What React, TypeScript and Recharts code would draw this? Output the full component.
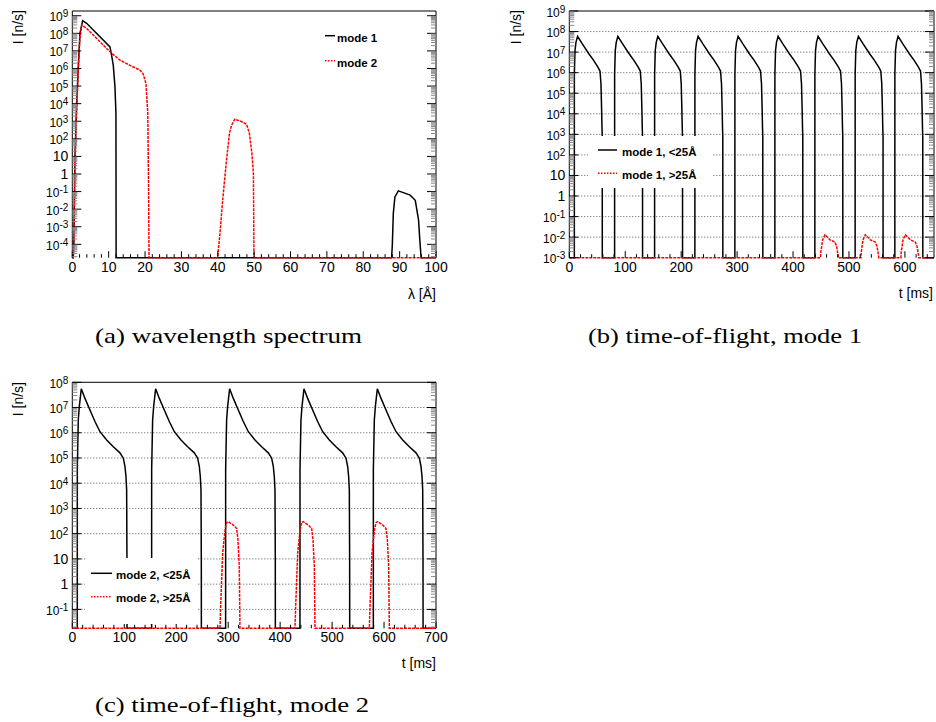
import React from "react";
import { LineChart, Line, XAxis, YAxis, ReferenceLine } from "recharts";

type Pt = [number, number];

// (a) wavelength spectrum: [lambda (Å), I (n/s)], 0 = empty bin
const spectrumMode1: Pt[] = [
  [0, 0], [0.27, 0], [0.46, 4e-4], [0.73, 9], [1.19, 1e4], [1.65, 1.3e6], [2.11, 1e8],
  [2.84, 5.2e8], [3.94, 3.7e8], [10.36, 1.7e7], [10.8, 5.8e6], [11.27, 1.5e6], [11.73, 9e4],
  [12.0, 2.8e3], [12.05, 0], [87.8, 0], [88.0, 1e-4], [88.26, 5.6e-3], [88.7, 5e-2],
  [89.65, 0.11], [92.9, 6.3e-2], [94.3, 3.2e-2], [95.2, 2.5e-3], [95.5, 2.5e-4], [95.9, 0], [100, 0],
];
const spectrumMode2: Pt[] = [
  [0, 0], [0.27, 0], [0.46, 1.6e-4], [0.75, 6], [1.2, 4e3], [1.65, 8e5], [2.1, 6e7],
  [2.57, 3e8], [3.94, 1.9e8], [6.69, 5.1e7], [10.36, 8.9e6], [13.1, 3e6], [15.86, 1.5e6],
  [18.6, 8.1e5], [19.5, 4.8e5], [20.25, 1.4e5], [20.75, 3e3], [21.0, 3e-2], [21.1, 0],
  [40.0, 0], [40.14, 4.6e-5], [40.6, 4e-4], [41.3, 2.6e-2], [42.4, 6], [43.2, 200], [43.8, 600],
  [44.7, 1.3e3], [46.1, 1.05e3], [47.9, 680], [48.7, 200], [49.4, 14], [49.8, 1], [49.95, 0], [100, 0],
];

// (b) time-of-flight, mode 1: pulse start times (ms) and pulse shape [dt (ms), I]
const mode1FastStarts = [9, 81, 152.5, 224.5, 296, 367.5, 439, 511, 582];
const mode1FastShape: Pt[] = [
  [0, 0], [0.05, 8.9e5], [1.2, 1.2e7], [2.9, 3e7], [5.8, 5.9e7], [14.3, 2.5e7], [25.9, 8.3e6],
  [34.5, 4e6], [41.9, 1.9e6], [45.9, 1.2e6], [47.6, 2.9e5], [48.8, 1.5e4], [49.4, 2.3e3],
  [49.9, 7.6e2], [50, 0],
];
const mode1SlowStarts = [449.3, 521.5, 593];
const mode1SlowShape: Pt[] = [
  [0, 0], [0.2, 1.7e-3], [3.6, 7.4e-3], [7.8, 1.3e-2], [16.7, 7.4e-3], [25.7, 5.7e-3],
  [28.7, 3.5e-3], [31.5, 1.2e-3], [31.7, 0],
];

// (c) time-of-flight, mode 2
const mode2FastStarts = [9.6, 152.7, 295.1, 438.2, 579.4];
const mode2FastShape: Pt[] = [
  [0, 0], [0.05, 3.4e4], [1.9, 3.2e6], [3.9, 1.1e7], [7.7, 5.5e7], [14.8, 2.3e7], [24.4, 8e6],
  [34, 2.8e6], [43.7, 1.1e6], [56.5, 5.2e5], [69.3, 2.8e5], [82.1, 1.6e5], [88.6, 9.8e4],
  [91.8, 4.6e4], [93.7, 1.8e4], [95, 5.4e3], [95.6, 9], [95.7, 0],
];
const mode2SlowStarts = [284.2, 428.6, 571.7];
const mode2SlowShape: Pt[] = [
  [0, 0], [1.3, 0.13], [5.2, 17], [7.7, 56], [10.3, 160], [13, 280], [16.1, 300], [25.7, 220],
  [32.1, 160], [34.7, 56], [37.2, 4.9], [38.5, 0],
];

// axis ticks
const lambdaTicks = [0, 10, 20, 30, 40, 50, 60, 70, 80, 90, 100];
const tofTicksB = [0, 100, 200, 300, 400, 500, 600];
const tofTicksC = [0, 100, 200, 300, 400, 500, 600, 700];
const gridB = [1e8, 1e7, 1e6, 1e5, 1e4, 1e3, 1e2, 10, 1, 1e-1, 1e-2];
const gridC = [1e7, 1e6, 1e5, 1e4, 1e3, 1e2, 10, 1, 1e-1];

const FONT = "'Liberation Sans', Arial, Helvetica, sans-serif";
const SERIF = "'Liberation Serif', 'Times New Roman', serif";
const RED_DASH = "3 1";

const train = (starts: number[], shape: Pt[], xMax: number): Pt[] => [
  [0, 0],
  ...starts.flatMap((s) => shape.map(([dt, v]) => [s + dt, v] as Pt)),
  [xMax, 0],
];

// empty bins sit on the bottom of the log frame
const rows = (pts: Pt[], floor: number) => pts.map(([x, v]) => ({ x, y: v > 0 ? v : floor }));

function logTicks(min: number, max: number) {
  const majors: number[] = [];
  const minors: number[] = [];
  for (let e = Math.floor(Math.log10(min)); e <= Math.ceil(Math.log10(max)); e++) {
    for (let m = 1; m <= 9; m++) {
      const v = parseFloat(`${m}e${e}`);
      if (v < min * 0.9999 || v > max * 1.0001) continue;
      (m === 1 ? majors : minors).push(v);
    }
  }
  return { majors, minors };
}

type Series = { pts: Pt[]; color: string; dash?: string };
type PanelProps = {
  left: number;
  top: number;
  width: number;
  height: number;
  margin: { top: number; right: number; bottom: number; left: number };
  xDomain: [number, number];
  xMajor: number[];
  xMinorStep: number;
  yDomain: [number, number];
  grid: number[];
  series: Series[];
};

function yLabel(v: number) {
  const e = Math.round(Math.log10(v));
  if (e === 0 || e === 1) return { base: e === 0 ? "1" : "10", exp: null as string | null };
  return { base: "10", exp: String(e) };
}

function Panel(p: PanelProps) {
  const { majors: yMaj, minors: yMin } = logTicks(p.yDomain[0], p.yDomain[1]);
  const yMajSet = new Set(yMaj);
  const yTicks = [...yMaj, ...yMin];
  const xMin: number[] = [];
  for (let v = p.xDomain[0]; v <= p.xDomain[1] + 1e-9; v += p.xMinorStep) {
    const r = Math.round(v * 1000) / 1000;
    if (!p.xMajor.includes(r)) xMin.push(r);
  }
  const xMajSet = new Set(p.xMajor);
  const xTicks = [...p.xMajor, ...xMin];
  const axisLine = { stroke: "#000", strokeWidth: 1 };
  const floor = p.yDomain[0];

  return (
    <div style={{ position: "absolute", left: p.left, top: p.top }}>
      <LineChart width={p.width} height={p.height} margin={p.margin}>
        <XAxis
          xAxisId="b"
          type="number"
          dataKey="x"
          domain={p.xDomain}
          ticks={xTicks}
          interval={0}
          tickSize={0}
          tickMargin={0}
          height={20}
          tickLine={false}
          axisLine={false}
          tick={(t: any) => {
            const major = xMajSet.has(t.payload.value);
            return (
              <g>
                <line x1={t.x} x2={t.x} y1={t.y} y2={t.y - (major ? 6.5 : 3.5)} stroke="#000" />
                {major && (
                  <text x={t.x} y={t.y + 14} textAnchor="middle" fontSize={14} fontFamily={FONT} fill="#000">
                    {t.payload.value}
                  </text>
                )}
              </g>
            );
          }}
        />
        <XAxis
          xAxisId="t"
          orientation="top"
          type="number"
          domain={p.xDomain}
          allowDataOverflow
          ticks={xTicks}
          interval={0}
          tickSize={0}
          tickMargin={0}
          height={1}
          tickLine={false}
          axisLine={axisLine}
          tick={(t: any) => {
            const major = xMajSet.has(t.payload.value);
            return <line x1={t.x} x2={t.x} y1={t.y} y2={t.y + (major ? 6.5 : 3.5)} stroke="#000" />;
          }}
        />
        <YAxis
          yAxisId="l"
          type="number"
          scale="log"
          domain={p.yDomain}
          ticks={yTicks}
          interval={0}
          tickSize={0}
          tickMargin={0}
          width={20}
          tickLine={false}
          axisLine={axisLine}
          tick={(t: any) => {
            const major = yMajSet.has(t.payload.value);
            const lab = yLabel(t.payload.value);
            return (
              <g>
                <line x1={t.x} x2={t.x + (major ? 9 : 5)} y1={t.y} y2={t.y} stroke={major ? "#000" : "#888"} />
                {major &&
                  (lab.exp === null ? (
                    <text x={t.x - 4} y={t.y} textAnchor="end" dominantBaseline="central" fontSize={14} fontFamily={FONT} fill="#000">
                      {lab.base}
                    </text>
                  ) : (
                    <text x={t.x - 4} y={t.y + 1.5} textAnchor="end" dominantBaseline="central" fontSize={12} fontFamily={FONT} fill="#000">
                      {lab.base}
                      <tspan dy={-4} fontSize={10}>
                        {lab.exp}
                      </tspan>
                    </text>
                  ))}
              </g>
            );
          }}
        />
        <YAxis
          yAxisId="r"
          orientation="right"
          type="number"
          scale="log"
          domain={p.yDomain}
          allowDataOverflow
          ticks={yTicks}
          interval={0}
          tickSize={0}
          tickMargin={0}
          width={1}
          tickLine={false}
          axisLine={axisLine}
          tick={(t: any) => {
            const major = yMajSet.has(t.payload.value);
            return <line x1={t.x} x2={t.x - (major ? 9 : 5)} y1={t.y} y2={t.y} stroke={major ? "#000" : "#888"} />;
          }}
        />
        {p.grid.map((g) => (
          <ReferenceLine key={g} y={g} xAxisId="b" yAxisId="l" stroke="#555" strokeDasharray="1 2" strokeWidth={1} />
        ))}
        {p.series.map((s, i) => (
          <Line
            key={i}
            xAxisId="b"
            yAxisId="l"
            data={rows(s.pts, floor)}
            dataKey="y"
            type="linear"
            dot={false}
            stroke={s.color}
            strokeWidth={1.5}
            strokeDasharray={s.dash}
            isAnimationActive={false}
          />
        ))}
      </LineChart>
    </div>
  );
}

export default function App() {
  const t = { fontFamily: FONT, fontSize: 14, fill: "#000" } as const;
  const lg = { fontFamily: FONT, fontSize: 11.5, fontWeight: 700, fill: "#000" } as const;
  const cap = { fontFamily: SERIF, fontSize: 21, fill: "#000" } as const;
  return (
    <div style={{ position: "absolute", left: 0, top: 0, width: 936, height: 722, background: "#fff" }}>
      <Panel
        left={0}
        top={0}
        width={460}
        height={310}
        margin={{ top: 10, left: 52.3, right: 23, bottom: 32.3 }}
        xDomain={[0, 100]}
        xMajor={lambdaTicks}
        xMinorStep={2}
        yDomain={[Math.pow(10, -4.76), Math.pow(10, 9.27)]}
        grid={[]}
        series={[
          { pts: spectrumMode1, color: "#000" },
          { pts: spectrumMode2, color: "#ff0000", dash: RED_DASH },
        ]}
      />
      <Panel
        left={480}
        top={0}
        width={456}
        height={310}
        margin={{ top: 10, left: 69.3, right: 1, bottom: 32.3 }}
        xDomain={[0, 652]}
        xMajor={tofTicksB}
        xMinorStep={20}
        yDomain={[1e-3, 1e9]}
        grid={gridB}
        series={[
          { pts: train(mode1FastStarts, mode1FastShape, 652), color: "#000" },
          { pts: train(mode1SlowStarts, mode1SlowShape, 652), color: "#ff0000", dash: RED_DASH },
        ]}
      />
      <Panel
        left={0}
        top={340}
        width={460}
        height={310}
        margin={{ top: 41.3, left: 52.3, right: 23, bottom: 1.7 }}
        xDomain={[0, 700]}
        xMajor={tofTicksC}
        xMinorStep={20}
        yDomain={[Math.pow(10, -1.75), 1e8]}
        grid={gridC}
        series={[
          { pts: train(mode2FastStarts, mode2FastShape, 700), color: "#000" },
          { pts: train(mode2SlowStarts, mode2SlowShape, 700), color: "#ff0000", dash: RED_DASH },
        ]}
      />
      <svg width={936} height={722} style={{ position: "absolute", left: 0, top: 0, pointerEvents: "none" }}>
        {/* axis titles */}
        <text transform="translate(18.3,10) rotate(-90)" textAnchor="end" dominantBaseline="central" {...t}>I [n/s]</text>
        <text transform="translate(515.5,10) rotate(-90)" textAnchor="end" dominantBaseline="central" {...t}>I [n/s]</text>
        <text transform="translate(18.3,382) rotate(-90)" textAnchor="end" dominantBaseline="central" {...t}>I [n/s]</text>
        <text x={436} y={294} textAnchor="end" dominantBaseline="central" {...t}>λ [Å]</text>
        <text x={933} y={292.5} textAnchor="end" dominantBaseline="central" {...t}>t [ms]</text>
        <text x={436} y={663} textAnchor="end" dominantBaseline="central" {...t}>t [ms]</text>

        {/* legend (a) */}
        <line x1={325} x2={335} y1={35.7} y2={35.7} stroke="#000" strokeWidth={1.5} />
        <text x={337} y={38.3} dominantBaseline="central" {...lg}>mode 1</text>
        <line x1={325} x2={335} y1={60.7} y2={60.7} stroke="#ff0000" strokeWidth={1.5} strokeDasharray="1.5 1.5" />
        <text x={337} y={62.7} dominantBaseline="central" {...lg}>mode 2</text>

        {/* legend (b) */}
        <rect x={588} y={136} width={124} height={52} fill="#fff" />
        <line x1={598} x2={617} y1={150} y2={150} stroke="#000" strokeWidth={1.5} />
        <text x={622} y={151.7} dominantBaseline="central" {...lg}>mode 1, &lt;25Å</text>
        <line x1={598} x2={617} y1={173.3} y2={173.3} stroke="#ff0000" strokeWidth={1.5} strokeDasharray="1.5 1.5" />
        <text x={622} y={175} dominantBaseline="central" {...lg}>mode 1, &gt;25Å</text>

        {/* legend (c) */}
        <rect x={85} y={558} width={113} height={66} fill="#fff" />
        <line x1={91} x2={112} y1={573.3} y2={573.3} stroke="#000" strokeWidth={1.5} />
        <text x={116} y={574.7} dominantBaseline="central" {...lg}>mode 2, &lt;25Å</text>
        <line x1={91} x2={112} y1={596.7} y2={596.7} stroke="#ff0000" strokeWidth={1.5} strokeDasharray="1.5 1.5" />
        <text x={116} y={598} dominantBaseline="central" {...lg}>mode 2, &gt;25Å</text>

        {/* captions */}
        <text x={95} y={343} textLength={267} lengthAdjust="spacingAndGlyphs" {...cap}>(a) wavelength spectrum</text>
        <text x={588} y={343} textLength={274} lengthAdjust="spacingAndGlyphs" {...cap}>(b) time-of-flight, mode 1</text>
        <text x={95} y={712} textLength={274} lengthAdjust="spacingAndGlyphs" {...cap}>(c) time-of-flight, mode 2</text>
      </svg>
    </div>
  );
}
